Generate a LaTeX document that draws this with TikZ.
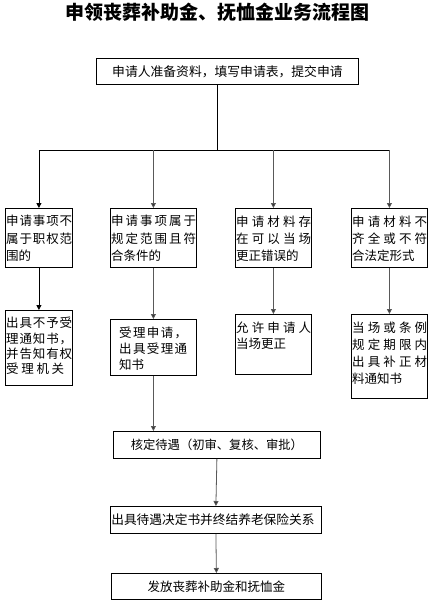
\documentclass[tikz,border=0pt]{standalone}
\usepackage{fontspec}
\setmainfont{Noto Sans CJK SC}
\usetikzlibrary{arrows.meta}
\def\jlsep#1#2\relax{#1\ifx\relax#2\relax\else\hfill\jlsep#2\relax\fi}
\newcommand\jl[2]{\leavevmode\hbox to #1pt{\jlsep#2\relax}}
\tikzset{
  box/.style={draw=black, line width=0.8pt, anchor=north west, inner sep=0pt},
  txt/.style={anchor=north west, inner sep=0pt, align=left},
  arr/.style={line width=0.8pt, -{Triangle[length=5pt,width=5pt]}},
  garr/.style={arr, draw=black!65, -{Triangle[length=5pt,width=5pt,fill=black!80]}},
  ln/.style={line width=0.8pt},
}
\begin{document}
\begin{tikzpicture}[x=1pt,y=-1pt]
\useasboundingbox[fill=white] (0,0) rectangle (434,605);
% title
\node[inner sep=0pt, font=\fontsize{19}{22}\selectfont\bfseries] (title) at (217,12) {申领丧葬补助金、抚恤金业务流程图};
% top box
\node[box, minimum width=262pt, minimum height=26pt] (top) at (96,58) {};
\node[inner sep=0pt, font=\fontsize{12.8}{15}\selectfont] (topt) at (top.center) {申请人准备资料，填写申请表，提交申请};
% row 1 boxes
\node[box, minimum width=67pt, minimum height=59pt] (r1a) at (5,208) {};
\node[box, minimum width=86pt, minimum height=59pt] (r1b) at (110,208) {};
\node[box, minimum width=76pt, minimum height=59pt] (r1c) at (235,208) {};
\node[box, minimum width=76pt, minimum height=59pt] (r1d) at (351,208) {};
\node[txt, text width=66pt, font=\fontsize{12.5}{17.5}\selectfont] (r1at) at (6,215)
  {\jl{66}{申请事项不}\\\jl{66}{属于职权范}\\围的};
\node[txt, text width=85pt, font=\fontsize{12.5}{17.5}\selectfont] (r1bt) at (111,215)
  {\jl{85}{申请事项属于}\\\jl{85}{规定范围且符}\\合条件的};
\node[txt, text width=75pt, font=\fontsize{12.5}{17}\selectfont] (r1ct) at (236,216)
  {\jl{75}{申请材料存}\\\jl{75}{在可以当场}\\更正错误的};
\node[txt, text width=75pt, font=\fontsize{12.5}{17}\selectfont] (r1dt) at (352,216)
  {\jl{75}{申请材料不}\\\jl{75}{齐全或不符}\\合法定形式};
% row 2 boxes
\node[box, minimum width=67pt, minimum height=75pt] (r2a) at (5,310) {};
\node[box, minimum width=86pt, minimum height=56pt] (r2b) at (110,319) {};
\node[box, minimum width=76pt, minimum height=60pt] (r2c) at (235,314) {};
\node[box, minimum width=76pt, minimum height=84pt] (r2d) at (351,314) {};
\node[txt, text width=66pt, font=\fontsize{12.5}{15.3}\selectfont] (r2at) at (6,317)
  {\jl{66}{出具不予受}\\\jl{66}{理通知书，}\\\jl{66}{并告知有权}\\\jl{58}{受理机关}};
\node[txt, text width=68pt, font=\fontsize{12.5}{16}\selectfont] (r2bt) at (119,327)
  {\jl{68}{受理申请，}\\\jl{68}{出具受理通}\\知书};
\node[txt, text width=75pt, font=\fontsize{12.5}{16}\selectfont] (r2ct) at (236,322)
  {\jl{75}{允许申请人}\\当场更正};
\node[txt, text width=75pt, font=\fontsize{12.5}{17}\selectfont] (r2dt) at (352,322)
  {\jl{75}{当场或条例}\\\jl{75}{规定期限内}\\\jl{75}{出具补正材}\\料通知书};
% bottom boxes
\node[box, minimum width=207pt, minimum height=27pt] (hd) at (113,431) {};
\node[inner sep=0pt, font=\fontsize{12.3}{15}\selectfont] (hdt) at (hd.center) {核定待遇（初审、复核、审批）};
\node[box, minimum width=211pt, minimum height=27pt] (cj) at (110,506) {};
\node[inner sep=0pt, font=\fontsize{12.7}{15}\selectfont] (cjt) at ([xshift=-3pt]cj.center) {出具待遇决定书并终结养老保险关系};
\node[box, minimum width=210pt, minimum height=26pt] (ff) at (111,573) {};
\node[inner sep=0pt, font=\fontsize{12.5}{15}\selectfont] (fft) at (ff.center) {发放丧葬补助金和抚恤金};
% connectors
\coordinate (j1) at (r1a.north |- 0,150);
\coordinate (j2) at (r1b.north |- 0,150);
\coordinate (j3) at (r1c.north |- 0,150);
\coordinate (j4) at (r1d.north |- 0,150);
\coordinate (jt) at (217,150);
\draw[ln] (top.south -| jt) -- (jt);
\draw[ln] (j1) -- (j4);
\draw[arr] (j1) -- (r1a.north);
\draw[garr] (j2) -- (r1b.north);
\draw[garr] (j3) -- (r1c.north);
\draw[garr] (j4) -- (r1d.north);
\draw[arr] (r1a.south) -- (r2a.north);
\draw[garr] (r1b.south) -- (r2b.north);
\draw[garr] (r1c.south) -- (r2c.north);
\draw[garr] (r1d.south) -- (r2d.north);
\draw[garr] (r2b.south) -- (r2b.south |- hd.north);
\draw[garr] (hd.south) -- (cj.north);
\draw[garr] (cj.south) -- (ff.north);
\end{tikzpicture}
\end{document}
